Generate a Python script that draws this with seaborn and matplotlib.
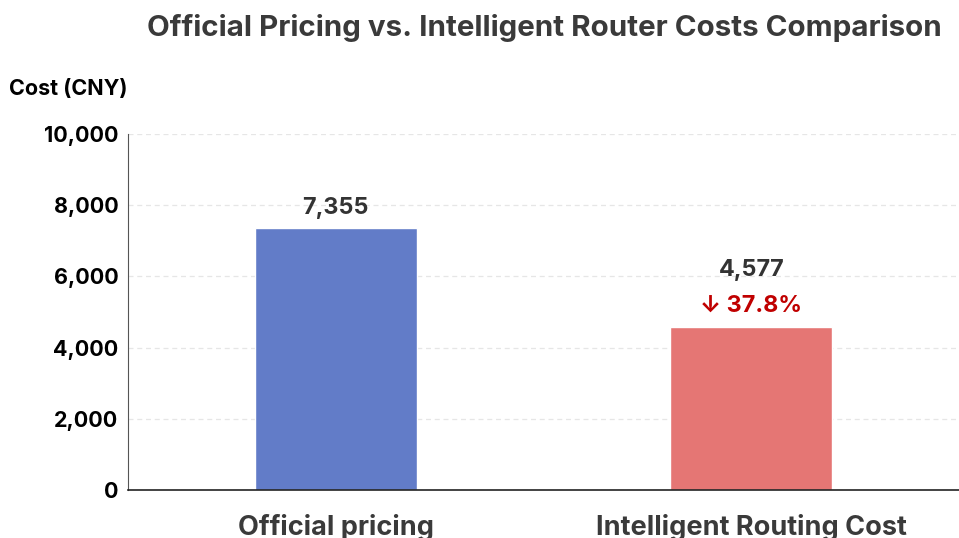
import matplotlib
matplotlib.use("Agg")
import matplotlib.pyplot as plt
import seaborn as sns
import pandas as pd
from matplotlib.ticker import FuncFormatter

# === DATA ===
categories = ["Official pricing", "Intelligent Routing Cost"]
costs = [7355, 4577]
bar_colors = ["#627cc8", "#e57674"]
saving_pct = (costs[0] - costs[1]) / costs[0] * 100

df = pd.DataFrame({"category": categories, "cost": costs})

# === STYLE ===
sns.set_style("white")
plt.rcParams["font.family"] = ["Inter", "DejaVu Sans"]

fig = plt.figure(figsize=(9.59, 5.38), dpi=100)
ax = fig.add_axes([0.1335, 0.0892, 0.8665, 0.6617])

sns.barplot(data=df, x="category", y="cost", hue="category", palette=bar_colors,
            width=0.39, legend=False, ax=ax, saturation=1)

ax.set_xlim(-0.5, 1.5)
ax.set_ylim(0, 10000)
ax.set_yticks(range(0, 10001, 2000))
ax.yaxis.set_major_formatter(FuncFormatter(lambda v, p: f"{int(v):,}"))
ax.grid(axis="y", linestyle=(0, (4, 3)), color="#e6e6e6", linewidth=0.9)
ax.set_axisbelow(True)

for s in ["top", "right"]:
    ax.spines[s].set_visible(False)
ax.spines["left"].set_color("#555555")
ax.spines["left"].set_linewidth(0.8)
ax.spines["bottom"].set_color("#222222")
ax.spines["bottom"].set_linewidth(1.2)

ax.tick_params(axis="y", length=0, pad=7, labelsize=15.5, labelcolor="black")
ax.tick_params(axis="x", length=0, pad=17, labelsize=19.5, labelcolor="#3a3a3a")
for lbl in ax.get_yticklabels() + ax.get_xticklabels():
    lbl.set_fontweight("bold")
ax.set_xlabel("")
ax.set_ylabel("")

# value labels
for i, v in enumerate(costs):
    ax.text(i, v + (1300 if i == 1 else 250), f"{v:,}", ha="center", va="bottom",
            fontsize=16.8, fontweight="bold", color="#333333")
ax.text(1, costs[1] + 300, f"↓ {saving_pct:.1f}%", ha="center", va="bottom",
        fontsize=16.8, fontweight="bold", color="#c00000")

fig.text(0.568, 0.948, "Official Pricing vs. Intelligent Router Costs Comparison",
         ha="center", va="center", fontsize=21.3, fontweight="bold", color="#3a3a3a")
fig.text(0.009, 0.834, "Cost (CNY)", ha="left", va="center",
         fontsize=15.5, fontweight="bold", color="black")

fig.savefig("out.png", dpi=100)
